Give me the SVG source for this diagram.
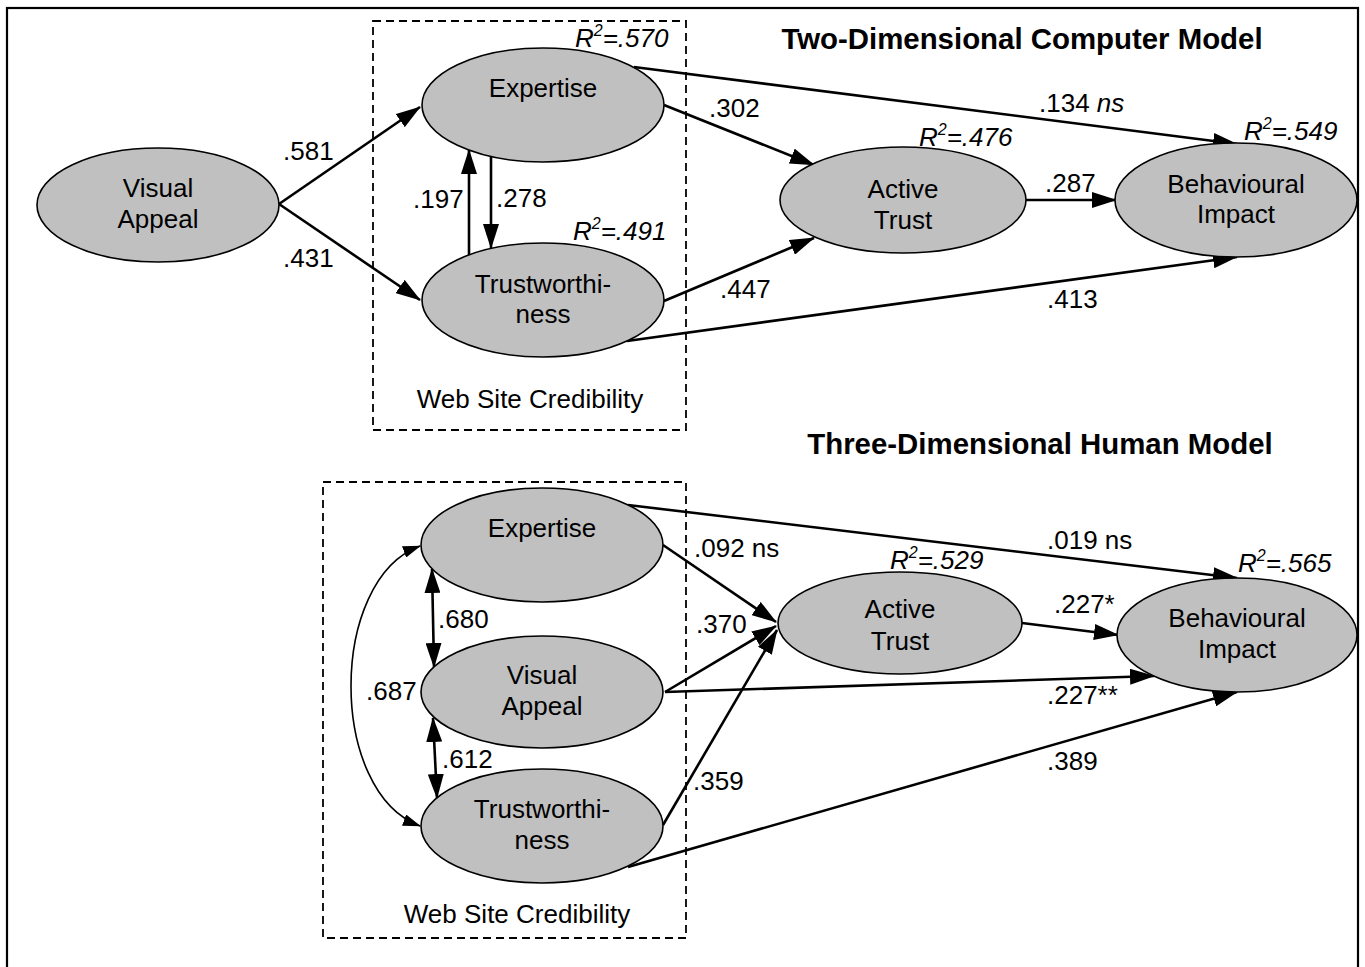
<svg xmlns="http://www.w3.org/2000/svg" width="1365" height="967" viewBox="0 0 1365 967">
<style>
.node{fill:#c0c0c0;stroke:#000;stroke-width:1.6}
.t{font-family:"Liberation Sans",Arial,sans-serif;font-size:26px;fill:#000}
.c{text-anchor:middle}
.r2{font-family:"Liberation Sans",Arial,sans-serif;font-size:26px;font-style:italic;fill:#000}
.title{font-family:"Liberation Sans",Arial,sans-serif;font-size:29.4px;font-weight:bold;text-anchor:middle;fill:#000}
.e{fill:none;stroke:#000;stroke-width:2.6;marker-end:url(#ah)}
.d{fill:none;stroke:#000;stroke-width:2.6;marker-end:url(#ah);marker-start:url(#ah)}
.cv{fill:none;stroke:#000;stroke-width:1.6;marker-end:url(#sh);marker-start:url(#sh)}
.box{fill:none;stroke:#000;stroke-width:1.8;stroke-dasharray:8 5}
</style>
<defs>
<marker id="ah" markerUnits="userSpaceOnUse" markerWidth="25" markerHeight="16" refX="24" refY="8" orient="auto-start-reverse" viewBox="0 0 25 16">
<path d="M0,0 L25,8 L0,16 z" fill="#000"/>
</marker>
<marker id="sh" markerUnits="userSpaceOnUse" markerWidth="18" markerHeight="12" refX="17" refY="6" orient="auto-start-reverse" viewBox="0 0 18 12">
<path d="M0,0 L18,6 L0,12 z" fill="#000"/>
</marker>
</defs>
<rect x="0" y="0" width="1365" height="967" fill="#fff"/>
<rect x="7" y="8" width="1351" height="1000" fill="none" stroke="#000" stroke-width="2.2"/>

<g id="titles">
<text class="title" x="1022" y="49">Two-Dimensional Computer Model</text>
<text class="title" x="1040" y="454">Three-Dimensional Human Model</text>
</g>

<g id="groups">
<rect class="box" x="373" y="21" width="313" height="409"/>
<text class="t c" x="530" y="408">Web Site Credibility</text>
<rect class="box" x="323" y="482" width="363" height="456"/>
<text class="t c" x="517" y="923">Web Site Credibility</text>
</g>

<g id="connectors">
<line class="e" x1="279" y1="204" x2="420" y2="107"/>
<line class="e" x1="279" y1="204" x2="420" y2="300"/>
<line class="e" x1="469" y1="255" x2="469" y2="150"/>
<line class="e" x1="491" y1="157" x2="491" y2="248"/>
<line class="e" x1="634" y1="67" x2="1237" y2="144"/>
<line class="e" x1="664" y1="105" x2="814" y2="165"/>
<line class="e" x1="664" y1="301" x2="814" y2="238"/>
<line class="e" x1="1026" y1="200" x2="1116" y2="200"/>
<line class="e" x1="627" y1="341" x2="1237" y2="257"/>

<line class="d" x1="432" y1="569" x2="434" y2="667"/>
<line class="d" x1="433" y1="718" x2="437" y2="798"/>
<path class="cv" d="M420,546 C328,580 328,792 420,826"/>
<line class="e" x1="628" y1="505" x2="1237" y2="578"/>
<line class="e" x1="663" y1="545" x2="776" y2="622"/>
<line class="e" x1="665" y1="692" x2="776" y2="626"/>
<line class="e" x1="665" y1="692" x2="1154" y2="676"/>
<line class="e" x1="663" y1="825" x2="777" y2="630"/>
<line class="e" x1="628" y1="867" x2="1237" y2="692"/>
<line class="e" x1="1022" y1="623" x2="1118" y2="635"/>
</g>

<g id="top-visual-appeal">
<ellipse class="node" cx="158" cy="205" rx="121" ry="57"/>
<text class="t c" x="158" y="197">Visual</text>
<text class="t c" x="158" y="228">Appeal</text>
</g>
<g id="top-expertise">
<ellipse class="node" cx="543" cy="105" rx="121" ry="57"/>
<text class="t c" x="543" y="97">Expertise</text>
</g>
<g id="top-trustworthiness">
<ellipse class="node" cx="543" cy="300" rx="121" ry="57"/>
<text class="t c" x="543" y="293">Trustworthi-</text>
<text class="t c" x="543" y="323">ness</text>
</g>
<g id="top-active-trust">
<ellipse class="node" cx="903" cy="200" rx="123" ry="53"/>
<text class="t c" x="903" y="198">Active</text>
<text class="t c" x="903" y="229">Trust</text>
</g>
<g id="top-behavioural-impact">
<ellipse class="node" cx="1236" cy="200" rx="121" ry="57"/>
<text class="t c" x="1236" y="193">Behavioural</text>
<text class="t c" x="1236" y="223">Impact</text>
</g>

<g id="bot-expertise">
<ellipse class="node" cx="542" cy="545" rx="121" ry="57"/>
<text class="t c" x="542" y="537">Expertise</text>
</g>
<g id="bot-visual-appeal">
<ellipse class="node" cx="542" cy="692" rx="121" ry="56"/>
<text class="t c" x="542" y="684">Visual</text>
<text class="t c" x="542" y="715">Appeal</text>
</g>
<g id="bot-trustworthiness">
<ellipse class="node" cx="542" cy="826" rx="121" ry="57"/>
<text class="t c" x="542" y="818">Trustworthi-</text>
<text class="t c" x="542" y="849">ness</text>
</g>
<g id="bot-active-trust">
<ellipse class="node" cx="900" cy="623" rx="122" ry="51"/>
<text class="t c" x="900" y="618">Active</text>
<text class="t c" x="900" y="650">Trust</text>
</g>
<g id="bot-behavioural-impact">
<ellipse class="node" cx="1237" cy="635" rx="120" ry="57"/>
<text class="t c" x="1237" y="627">Behavioural</text>
<text class="t c" x="1237" y="658">Impact</text>
</g>

<g id="r2-labels">
<text class="r2" x="575" y="47">R<tspan font-size="16" dy="-11">2</tspan><tspan dy="11">=.570</tspan></text>
<text class="r2" x="573" y="240">R<tspan font-size="16" dy="-11">2</tspan><tspan dy="11">=.491</tspan></text>
<text class="r2" x="919" y="146">R<tspan font-size="16" dy="-11">2</tspan><tspan dy="11">=.476</tspan></text>
<text class="r2" x="1244" y="140">R<tspan font-size="16" dy="-11">2</tspan><tspan dy="11">=.549</tspan></text>
<text class="r2" x="890" y="569">R<tspan font-size="16" dy="-11">2</tspan><tspan dy="11">=.529</tspan></text>
<text class="r2" x="1238" y="572">R<tspan font-size="16" dy="-11">2</tspan><tspan dy="11">=.565</tspan></text>
</g>

<g id="path-labels">
<text class="t" x="283" y="160">.581</text>
<text class="t" x="283" y="267">.431</text>
<text class="t" x="413" y="208">.197</text>
<text class="t" x="496" y="207">.278</text>
<text class="t" x="709" y="117">.302</text>
<text class="t" x="1039" y="112">.134 <tspan font-style="italic">ns</tspan></text>
<text class="t" x="1045" y="192">.287</text>
<text class="t" x="720" y="298">.447</text>
<text class="t" x="1047" y="308">.413</text>

<text class="t" x="438" y="628">.680</text>
<text class="t" x="366" y="700">.687</text>
<text class="t" x="442" y="768">.612</text>
<text class="t" x="694" y="557">.092 ns</text>
<text class="t" x="696" y="633">.370</text>
<text class="t" x="693" y="790">.359</text>
<text class="t" x="1047" y="549">.019 ns</text>
<text class="t" x="1054" y="613">.227*</text>
<text class="t" x="1047" y="704">.227**</text>
<text class="t" x="1047" y="770">.389</text>
</g>
</svg>
